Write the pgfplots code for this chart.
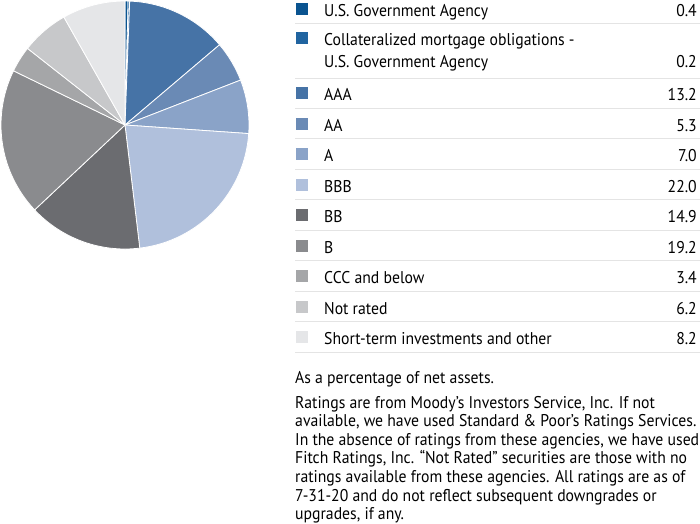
\documentclass[border=0pt]{standalone}
\usepackage{pgfplots}
\pgfplotsset{compat=1.18}
\usepackage{pgfplotstable}
\usepackage{fontspec}
\setmainfont{PT Sans}[FakeStretch=0.925]
\definecolor{c1}{HTML}{0A5490}
\definecolor{c2}{HTML}{2164A0}
\definecolor{c3}{HTML}{4673A6}
\definecolor{c4}{HTML}{6A8AB5}
\definecolor{c5}{HTML}{8AA3C8}
\definecolor{c6}{HTML}{B0C0DC}
\definecolor{c7}{HTML}{6B6C70}
\definecolor{c8}{HTML}{8A8B8E}
\definecolor{c9}{HTML}{A5A6A8}
\definecolor{c10}{HTML}{C7C8CA}
\definecolor{c11}{HTML}{E5E6E8}
\definecolor{sepgray}{HTML}{E4E4E4}
\pgfplotstableread[col sep=comma]{
value,color
0.4,c1
0.2,c2
13.2,c3
5.3,c4
7.0,c5
22.0,c6
14.9,c7
19.2,c8
3.4,c9
6.2,c10
8.2,c11
}\piedata
\newcommand{\legrow}[5]{% color, square center y, baseline y, label, value
  \fill[#1] (296,#2-6) rectangle (308,#2+6);
  \node[anchor=base west, inner sep=0pt] at (324,#3) {#4};
  \node[anchor=base east, inner sep=0pt] at (697,#3) {#5};
}
\newcommand{\sep}[1]{\draw[sepgray, line width=1pt] (295,#1) -- (700,#1);}
\begin{document}
\begin{tikzpicture}[x=1pt,y=-1pt]
\path[use as bounding box] (0,0) rectangle (700,523);
\begin{axis}[at={(125pt,-125pt)}, anchor=center, x=1pt, y=1pt,
  xmin=-125, xmax=125, ymin=-125, ymax=125, hide axis, clip=false, scale only axis]
\pgfplotstablegetrowsof{\piedata}
\pgfmathtruncatemacro{\N}{\pgfplotsretval-1}
\def\cum{0}
\pgfplotsforeachungrouped \i in {0,...,\N}{%
  \pgfplotstablegetelem{\i}{value}\of\piedata \let\sliceval=\pgfplotsretval
  \pgfplotstablegetelem{\i}{color}\of\piedata \let\slicecol=\pgfplotsretval
  \pgfmathsetmacro{\angA}{90-3.6*\cum}
  \pgfmathsetmacro{\cum}{\cum+\sliceval}
  \pgfmathsetmacro{\angB}{90-3.6*\cum}
  \pgfmathsetmacro{\xa}{124*cos(\angA)}
  \pgfmathsetmacro{\ya}{124*sin(\angA)}
  \edef\temp{\noexpand\fill[\slicecol, draw=white, line width=0.8pt, line join=round] (axis cs:0,0) -- (axis cs:\xa,\ya) arc[start angle=\angA, end angle=\angB, radius=124pt] -- cycle;}%
  \temp
}
\end{axis}
\fontsize{17}{19}\selectfont
\legrow{c1}{9}{16.7}{U.S. Government Agency}{0.4}
\sep{23}
\fill[c2] (296,31.5) rectangle (308,43.5);
\node[anchor=base west, inner sep=0pt] at (324,45.7) {Collateralized mortgage obligations -};
\node[anchor=base west, inner sep=0pt] at (324,67.7) {U.S. Government Agency};
\node[anchor=base east, inner sep=0pt] at (697,67.7) {0.2};
\sep{78}
\legrow{c3}{93}{100.5}{AAA}{13.2}
\sep{108}
\legrow{c4}{123.5}{131}{AA}{5.3}
\sep{138.5}
\legrow{c5}{154}{161.5}{A}{7.0}
\sep{169}
\legrow{c6}{184.5}{192}{BBB}{22.0}
\sep{199.5}
\legrow{c7}{215}{222.5}{BB}{14.9}
\sep{230}
\legrow{c8}{245.5}{253}{B}{19.2}
\sep{260.5}
\legrow{c9}{276}{283.5}{CCC and below}{3.4}
\sep{291}
\legrow{c10}{306.5}{314}{Not rated}{6.2}
\sep{321.5}
\legrow{c11}{337}{344.5}{Short-term investments and other}{8.2}
\sep{352.5}
\begin{scope}[every node/.style={anchor=base west, inner sep=0pt}]
\node at (295,383) {As a percentage of net assets.};
\node at (295,408) {Ratings are from Moody’s Investors Service, Inc. If not};
\node at (295,426.6) {available, we have used Standard \& Poor’s Ratings Services.};
\node at (295,445.2) {In the absence of ratings from these agencies, we have used};
\node at (295,463.8) {Fitch Ratings, Inc. “Not Rated” securities are those with no};
\node at (295,482.4) {ratings available from these agencies. All ratings are as of};
\node at (295,501) {7-31-20 and do not reflect subsequent downgrades or};
\node at (295,519.6) {upgrades, if any.};
\end{scope}
\end{tikzpicture}
\end{document}
